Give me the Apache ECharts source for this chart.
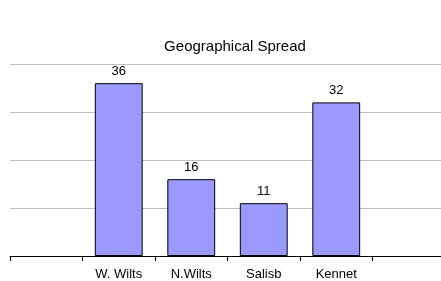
<!DOCTYPE html>
<html lang="en">

<head>
    <meta charset="UTF-8">
    <title>Geographical Spread</title>
    <style>
        html, body { margin: 0; padding: 0; background: #fff; }
        #main { width: 441px; height: 281px; }
    </style>
</head>

<body>
    <div id="main"></div>
    <script src="https://cdn.jsdelivr.net/npm/echarts@6/dist/echarts.min.js"></script>
    <script>
        // blank first and last slots, like the original
        let regions = ['', 'W. Wilts', 'N.Wilts', 'Salisb', 'Kennet', ''];
        let counts = ['-', 36, 16, 11, 32, '-'];

        var myChart = echarts.init(document.getElementById('main'));
        var font = 'Liberation Sans, Arial, sans-serif';
        option = {
            animation: false,
            title: {
                text: 'Geographical Spread',
                left: 230,
                textAlign: 'center',
                top: 34,
                textStyle: {
                    fontSize: 15,
                    fontWeight: 'normal',
                    color: '#000',
                    fontFamily: font
                }
            },
            grid: {
                left: 10,
                width: 435,
                top: 64,
                height: 192,
                outerBoundsMode: 'none',
                containLabel: false
            },
            xAxis: {
                type: 'category',
                data: regions,
                axisLine: { lineStyle: { color: '#000' } },
                axisTick: { show: true, length: 5, lineStyle: { color: '#000' } },
                axisLabel: {
                    color: '#000',
                    fontSize: 13,
                    fontFamily: font,
                    margin: 12
                }
            },
            yAxis: {
                type: 'value',
                min: 0,
                max: 40,
                interval: 10,
                axisLine: { show: false },
                axisTick: { show: false },
                axisLabel: { show: false },
                splitLine: { lineStyle: { color: '#c0c0c0' } }
            },
            series: [{
                type: 'bar',
                data: counts,
                barWidth: '66%',
                itemStyle: {
                    color: '#9999ff',
                    borderColor: '#000',
                    borderWidth: 1
                },
                label: {
                    show: true,
                    position: 'top',
                    distance: 5,
                    color: '#000',
                    fontSize: 13,
                    fontFamily: font
                }
            }]
        };
        myChart.setOption(option);
    </script>

</body>

</html>
